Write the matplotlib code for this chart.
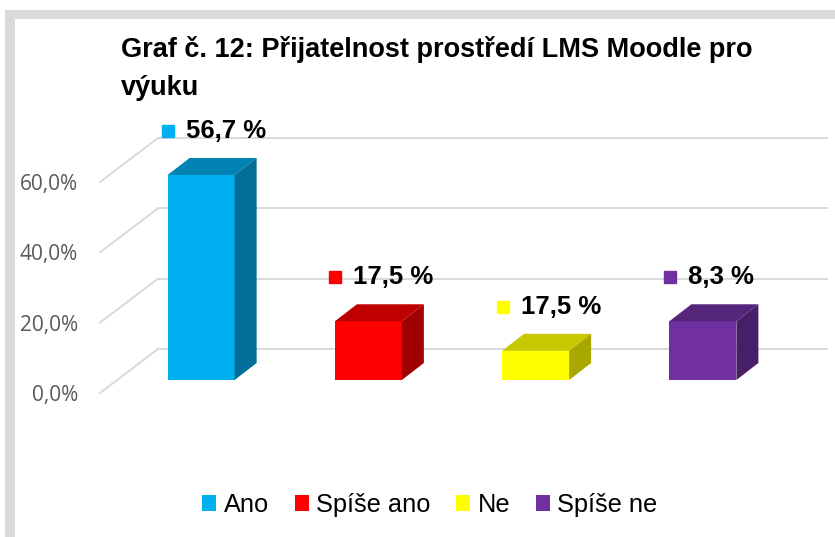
import matplotlib
matplotlib.use("Agg")
import matplotlib.pyplot as plt
from matplotlib.patches import Polygon, Rectangle, Patch

# data
categories = ["Ano", "Spíše ano", "Ne", "Spíše ne"]
values = [58.3, 16.7, 8.3, 16.7]            # bar heights as drawn
value_labels = ["56,7 %", "17,5 %", "17,5 %", "8,3 %"]   # labels as printed
yticks = [0, 20, 40, 60]
ytick_labels = ["0,0%", "20,0%", "40,0%", "60,0%"]
title_lines = ["Graf č. 12: Přijatelnost prostředí LMS Moodle pro", "výuku"]

front_colors = ["#00B0F0", "#FF0000", "#FFFF00", "#7030A0"]
top_colors = ["#0083B3", "#C00000", "#C8C800", "#56257C"]
side_colors = ["#006E96", "#A00000", "#A8A800", "#471F67"]

W, H = 835, 537
fig = plt.figure(figsize=(W / 100, H / 100), dpi=100)
fig.patch.set_facecolor("white")

# grey frame around the chart area (top and left)
fig.patches.append(Rectangle((5 / W, 1 - 19 / H), 1, 9 / H, transform=fig.transFigure,
                             facecolor="#d9d9d9", edgecolor="none", zorder=0))
fig.patches.append(Rectangle((5 / W, 0), 10 / W, 1 - 10 / H, transform=fig.transFigure,
                             facecolor="#d9d9d9", edgecolor="none", zorder=0))

ax = fig.add_axes([100 / W, 1 - 393 / H, 669 / W, 211 / H])
ax.set_xlim(-0.5, 3.5)
ax.set_ylim(0, 60)
for s in ax.spines.values():
    s.set_visible(False)
ax.set_facecolor("none")
ax.set_xticks([])
ax.set_yticks(yticks)
ax.set_yticklabels(ytick_labels, fontsize=15, color="#595959", family="Open Sans")
ax.tick_params(axis="y", length=0, pad=16)

# pixel scale of the front plane
px_x = 669 / 4.0
px_y = 211 / 60.0
# depth offsets
DX, DY = 58 / px_x, 44 / px_y          # back wall
fx, fy = 17.5 / px_x, 13 / px_y        # bar front face
bdx, bdy = 22 / px_x, 17 / px_y        # bar depth
bw = 67 / px_x

# back wall grid + side wall diagonals
x0, x1 = ax.get_xlim()
for v in yticks:
    ax.plot([x0, x0 + DX], [v, v + DY], color="#d9d9d9", lw=1.4, clip_on=False, zorder=1)
    ax.plot([x0 + DX, x1 + DX], [v + DY, v + DY], color="#d9d9d9", lw=1.4,
            clip_on=False, zorder=1)

xs = list(range(len(categories)))
bars = ax.bar([x + fx for x in xs], values, width=bw, bottom=fy, color=front_colors,
              zorder=3, clip_on=False)

for x, v, ct, cs in zip(xs, values, top_colors, side_colors):
    xl = x + fx - bw / 2
    xr = x + fx + bw / 2
    top = Polygon([(xl, v + fy), (xl + bdx, v + fy + bdy), (xr + bdx, v + fy + bdy), (xr, v + fy)],
                  closed=True, facecolor=ct, edgecolor="none", zorder=3, clip_on=False)
    side = Polygon([(xr, fy), (xr + bdx, fy + bdy), (xr + bdx, v + fy + bdy), (xr, v + fy)],
                   closed=True, facecolor=cs, edgecolor="none", zorder=3, clip_on=False)
    ax.add_patch(top)
    ax.add_patch(side)

# data labels with the little legend key squares
for x, v, lab, c in zip(xs, values, value_labels, front_colors):
    ly = v + fy + bdy + 27 / px_y
    sx = x + fx - 33 / px_x
    ax.plot([sx], [ly], marker="s", markersize=9, color=c, clip_on=False, zorder=4)
    ax.text(sx + 18 / px_x, ly, lab, fontsize=18.5, fontweight="bold", family="Liberation Sans",
            va="center", ha="left", zorder=4, clip_on=False)

# title
fig.text(121 / W, 1 - 57 / H, title_lines[0], fontsize=19.5, fontweight="bold",
         family="Liberation Sans", va="baseline", ha="left")
fig.text(121 / W, 1 - 95 / H, title_lines[1], fontsize=19.5, fontweight="bold",
         family="Liberation Sans", va="baseline", ha="left")

handles = [Patch(facecolor=c, edgecolor="none", label=n) for c, n in zip(front_colors, categories)]
fig.legend(handles=handles, loc="center", bbox_to_anchor=(430 / W, 1 - 505 / H), ncol=4,
           frameon=False, prop={"family": "Liberation Sans", "size": 18.3},
           handlelength=0.55, handleheight=0.55, handletextpad=0.3, columnspacing=1.0)

fig.savefig("out.png", dpi=100)
